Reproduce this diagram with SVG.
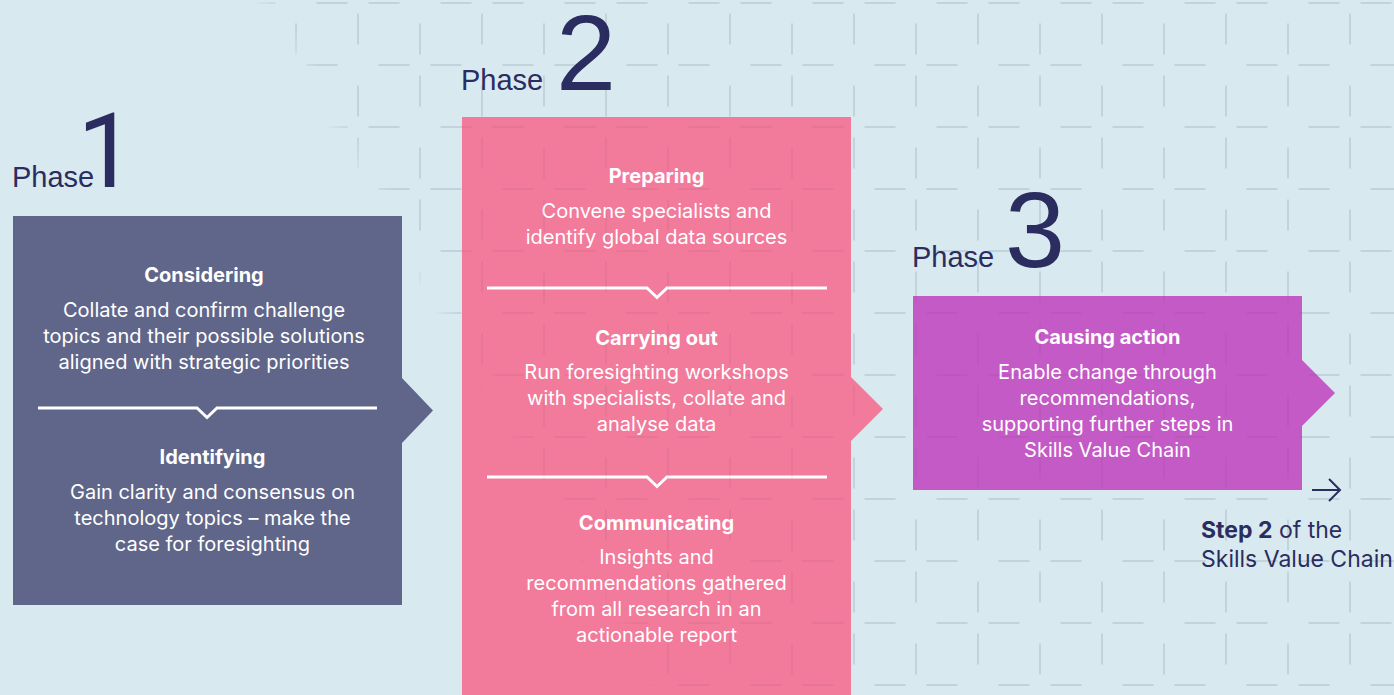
<svg xmlns="http://www.w3.org/2000/svg" width="1394" height="695" viewBox="0 0 1394 695">
  <defs>
    <style>
      .grid { fill: none; stroke: #0a2030; stroke-width: 2; }
      .phase { font-family: "Liberation Sans", Arial, sans-serif; fill: #2b2c5f; font-size: 29px; }
      .num { font-size: 108px; }
      .one { font-family: Roboto, "Liberation Sans", sans-serif; font-size: 104px; }
      .head { font-family: Inter, "Liberation Sans", sans-serif; font-weight: 700; font-size: 20px; fill: #ffffff; text-anchor: middle; }
      .body { font-family: Inter, "Liberation Sans", sans-serif; font-size: 20px; fill: #ffffff; text-anchor: middle; }
      .sep { fill: none; stroke: #ffffff; stroke-width: 3; }
      .note { font-family: Inter, "Liberation Sans", sans-serif; font-size: 23px; fill: #2b2c5f; }
      .link { fill: none; stroke: #2b2c5f; stroke-width: 2; }
    </style>
    <!-- dashed grid: 62px cells, gaps alternate small/large at the crossings -->
    <pattern id="dashgrid" patternUnits="userSpaceOnUse" x="327" y="-28" width="124" height="124">
      <path class="grid" d="M0 31H20.5M41.5 31H72.5M113.5 31H124M0 93H10.5M51.5 93H82.5M103.5 93H124M31 0V20.5M31 41.5V72.5M31 113.5V124M93 0V10.5M93 51.5V82.5M93 103.5V124"/>
    </pattern>
    <linearGradient id="fade" gradientUnits="userSpaceOnUse" x1="255.6" y1="6" x2="276.4" y2="-6">
      <stop offset="0" stop-color="#000000"/>
      <stop offset="1" stop-color="#ffffff"/>
    </linearGradient>
    <mask id="fadeMask" maskUnits="userSpaceOnUse" x="0" y="0" width="1394" height="695">
      <rect width="1394" height="695" fill="url(#fade)"/>
    </mask>
  </defs>

  <rect width="1394" height="695" fill="#d9e9f0"/>
  <rect width="1394" height="695" fill="url(#dashgrid)" opacity="0.06" mask="url(#fadeMask)"/>

  <g id="phase1">
    <path d="M13 216H402V378L433 410.5L402 443V605H13Z" fill="#606689"/>
    <text class="phase" x="12" y="187">Phase<tspan class="one" dx="-17">1</tspan></text>
    <text class="head" x="204" y="282">Considering</text>
    <text class="body" x="204" y="317">Collate and confirm challenge</text>
    <text class="body" x="204" y="343">topics and their possible solutions</text>
    <text class="body" x="204" y="369">aligned with strategic priorities</text>
    <polyline class="sep" points="38,408 197,408 207,417.5 217,408 377,408"/>
    <text class="head" x="212.5" y="464">Identifying</text>
    <text class="body" x="212.5" y="499">Gain clarity and consensus on</text>
    <text class="body" x="212.5" y="525">technology topics – make the</text>
    <text class="body" x="212.5" y="551">case for foresighting</text>
  </g>

  <g id="phase2">
    <path d="M462 117H851V377L883 409L851 441V700H462Z" fill="#f27a9b"/>
    <text class="phase" x="461" y="90">Phase<tspan class="num" dx="12.8">2</tspan></text>
    <text class="head" x="656.5" y="183">Preparing</text>
    <text class="body" x="656.5" y="218">Convene specialists and</text>
    <text class="body" x="656.5" y="244">identify global data sources</text>
    <polyline class="sep" points="487,288 647,288 657,297.5 667,288 827,288"/>
    <text class="head" x="656.5" y="345">Carrying out</text>
    <text class="body" x="656.5" y="379">Run foresighting workshops</text>
    <text class="body" x="656.5" y="405">with specialists, collate and</text>
    <text class="body" x="656.5" y="431">analyse data</text>
    <polyline class="sep" points="487,477 647,477 657,486.5 667,477 827,477"/>
    <text class="head" x="656.5" y="530">Communicating</text>
    <text class="body" x="656.5" y="564">Insights and</text>
    <text class="body" x="656.5" y="590">recommendations gathered</text>
    <text class="body" x="656.5" y="616">from all research in an</text>
    <text class="body" x="656.5" y="642">actionable report</text>
  </g>

  <g id="phase3">
    <path d="M913 296H1302V360L1335 393L1302 426V490H913Z" fill="#c45ac6"/>
    <text class="phase" x="912" y="267">Phase<tspan class="num" dx="10.8">3</tspan></text>
    <text class="head" x="1107.5" y="344">Causing action</text>
    <text class="body" x="1107.5" y="379">Enable change through</text>
    <text class="body" x="1107.5" y="405">recommendations,</text>
    <text class="body" x="1107.5" y="431">supporting further steps in</text>
    <text class="body" x="1107.5" y="457">Skills Value Chain</text>
  </g>

  <g id="next-step">
    <text class="note" x="1201" y="538"><tspan font-weight="700">Step 2</tspan> of the</text>
    <text class="note" x="1201" y="567">Skills Value Chain</text>
  </g>

  <g id="connectors">
    <path class="link" d="M1312 490H1340M1329 479L1340 490L1329 501"/>
  </g>

  <!-- faint grid showing through the coloured panels -->
  <rect width="1394" height="695" fill="url(#dashgrid)" opacity="0.045" mask="url(#fadeMask)" pointer-events="none"/>
</svg>
